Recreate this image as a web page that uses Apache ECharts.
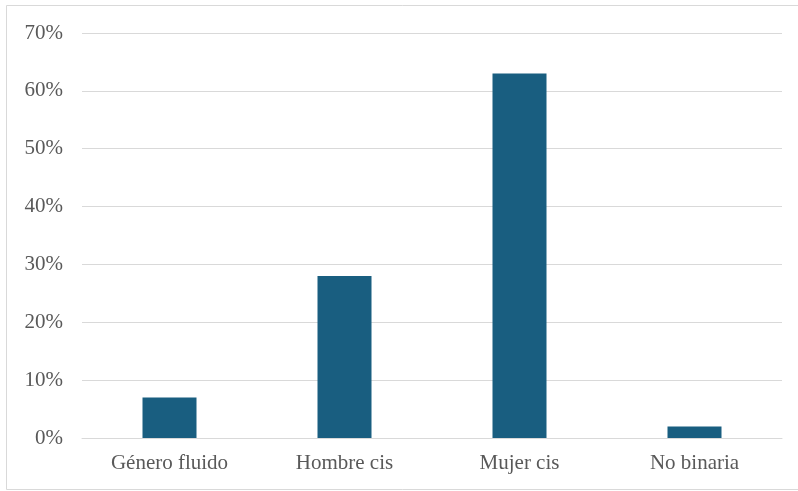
<!DOCTYPE html>
<html>
<head>
<meta charset="utf-8">
<style>
  html, body { margin: 0; padding: 0; background: #ffffff; }
  #chart { width: 798px; height: 491px; }
</style>
<script src="https://cdn.jsdelivr.net/npm/echarts@6/dist/echarts.min.js"></script>
</head>
<body>
<div id="chart"></div>
<script>
// Gender identity breakdown (share of respondents)
const categories = ['Género fluido', 'Hombre cis', 'Mujer cis', 'No binaria'];
const shares = [7, 28, 63, 2];

const chart = echarts.init(document.getElementById('chart'));
const font = '"Liberation Serif", "Times New Roman", serif';

chart.setOption({
  animation: false,
  backgroundColor: '#ffffff',
  graphic: [{
    type: 'rect',
    shape: { x: 6.5, y: 5.5, width: 800, height: 484 },
    style: { fill: 'none', stroke: '#d9d9d9', lineWidth: 1 },
    silent: true
  }],
  grid: { left: 82, right: 16, top: 33, bottom: 53 },
  xAxis: {
    type: 'category',
    data: categories,
    axisLine: { show: true, lineStyle: { color: '#d9d9d9', width: 1 } },
    axisTick: { show: false },
    axisLabel: { color: '#595959', fontFamily: font, fontSize: 21, margin: 15 }
  },
  yAxis: {
    type: 'value',
    min: 0,
    max: 70,
    interval: 10,
    axisLine: { show: false },
    axisTick: { show: false },
    splitLine: { lineStyle: { color: '#d9d9d9', width: 1 } },
    axisLabel: {
      color: '#595959', fontFamily: font, fontSize: 21, margin: 19,
      formatter: v => v + '%'
    }
  },
  series: [{
    type: 'bar',
    data: shares,
    barWidth: 54,
    itemStyle: { color: '#195e80' }
  }]
});
</script>
</body>
</html>
